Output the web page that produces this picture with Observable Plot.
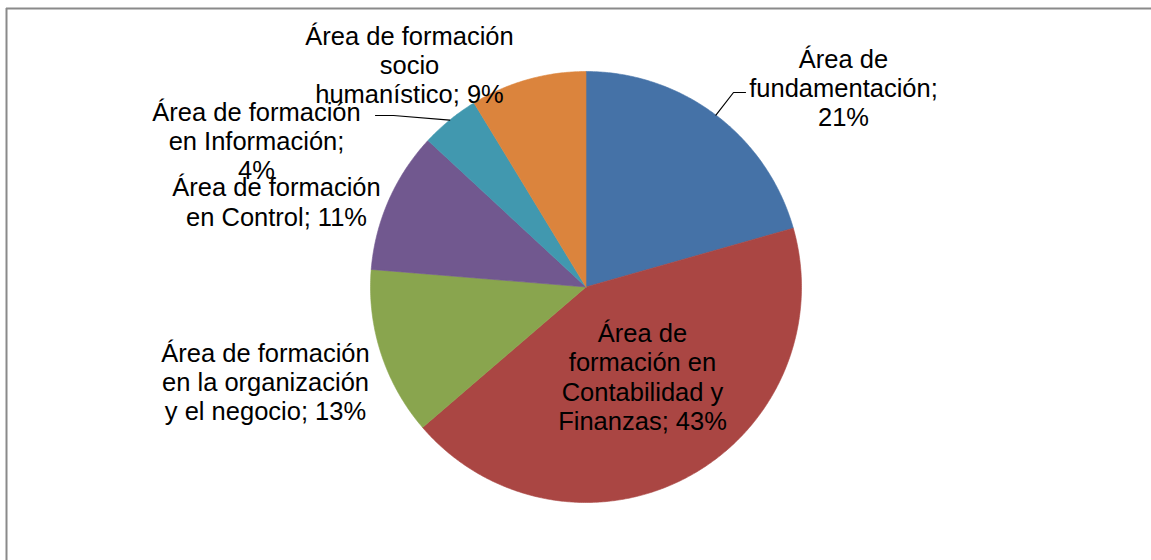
<!DOCTYPE html>
<html>
<head>
<meta charset="utf-8">
<script src="https://cdn.jsdelivr.net/npm/d3@7"></script>
<script src="https://cdn.jsdelivr.net/npm/@observablehq/plot@0.6"></script>
<style>
  body { margin: 0; background: #fff; }
  #chart svg { display: block; }
</style>
</head>
<body>
<div id="chart"></div>
<script>
// ---- data ----
const categories = [
  "Área de fundamentación",
  "Área de formación en Contabilidad y Finanzas",
  "Área de formación en la organización y el negocio",
  "Área de formación en Control",
  "Área de formación en Información",
  "Área de formación socio humanístico"
];
const shares = [20.6, 43.1, 12.6, 10.6, 4.4, 8.7];
const percentLabels = ["21%", "43%", "13%", "11%", "4%", "9%"];
const labelTexts = [
  "Área de\nfundamentación;\n21%",
  "Área de\nformación en\nContabilidad y\nFinanzas; 43%",
  "Área de formación\nen la organización\ny el negocio; 13%",
  "Área de formación\nen Control; 11%",
  "Área de formación\nen Información;\n4%",
  "Área de formación\nsocio\nhumanístico; 9%"
];
const colors = ["#4572A7", "#AA4643", "#89A54E", "#71588F", "#4198AF", "#DB843D"];

// ---- layout (pixels) ----
const W = 1151, H = 560;
const cx = 585.5, cy = 286.5, R = 215.5;
const labelPos = [
  {x: 843, y: 87},
  {x: 642, y: 376},
  {x: 265, y: 381},
  {x: 276, y: 201},
  {x: 256, y: 140},
  {x: 409, y: 64}
];
// leader line elbows (index -> points after the pie edge)
const leaders = {
  0: [[733, 92], [745, 92]],
  4: [[393, 115], [375, 115]]
};

// ---- derived geometry ----
const total = d3.sum(shares);
let acc = 0;
const slices = shares.map((v, i) => {
  const a0 = acc / total * 2 * Math.PI;
  acc += v;
  const a1 = acc / total * 2 * Math.PI;
  return {i, a0, a1, mid: (a0 + a1) / 2};
});
const pt = (a, r) => [cx + r * Math.sin(a), cy - r * Math.cos(a)];

const slicePts = [];
for (const s of slices) {
  const n = Math.max(4, Math.ceil((s.a1 - s.a0) / (Math.PI / 360)));
  slicePts.push({x: cx, y: cy, k: s.i});
  for (let j = 0; j <= n; j++) {
    const [x, y] = pt(s.a0 + (s.a1 - s.a0) * j / n, R);
    slicePts.push({x, y, k: s.i});
  }
  slicePts.push({x: cx, y: cy, k: s.i});
}

const leaderPts = [];
for (const k of Object.keys(leaders)) {
  const s = slices[+k];
  const [ex, ey] = pt(s.mid, R);
  leaderPts.push({x: ex, y: ey, k: +k});
  for (const [x, y] of leaders[k]) leaderPts.push({x, y, k: +k});
}

const labels = labelTexts.map((t, i) => ({text: t, x: labelPos[i].x, y: labelPos[i].y, cat: categories[i]}));

const chart = Plot.plot({
  width: W,
  height: H,
  margin: 0,
  x: {domain: [0, W], range: [0, W], axis: null},
  y: {domain: [0, H], range: [0, H], axis: null},
  style: {fontFamily: "'Liberation Sans', Arial, sans-serif", background: "#fff"},
  marks: [
    Plot.ruleY([8], {x1: 6, x2: W, stroke: "#8a8a8a", strokeWidth: 2}),
    Plot.ruleX([6], {y1: 8, y2: H, stroke: "#8a8a8a", strokeWidth: 2}),
    Plot.line(slicePts, {
      x: "x", y: "y", z: "k",
      fill: d => colors[d.k],
      stroke: d => colors[d.k],
      strokeWidth: 0.6,
      curve: "linear"
    }),
    Plot.line(leaderPts, {x: "x", y: "y", z: "k", stroke: "#000", strokeWidth: 1.2}),
    Plot.text(labels, {
      x: "x", y: "y", text: "text",
      fontSize: 25.5,
      lineHeight: 1.15,
      textAnchor: "middle",
      fill: "#000"
    })
  ]
});
document.getElementById("chart").appendChild(chart);
</script>
</body>
</html>
